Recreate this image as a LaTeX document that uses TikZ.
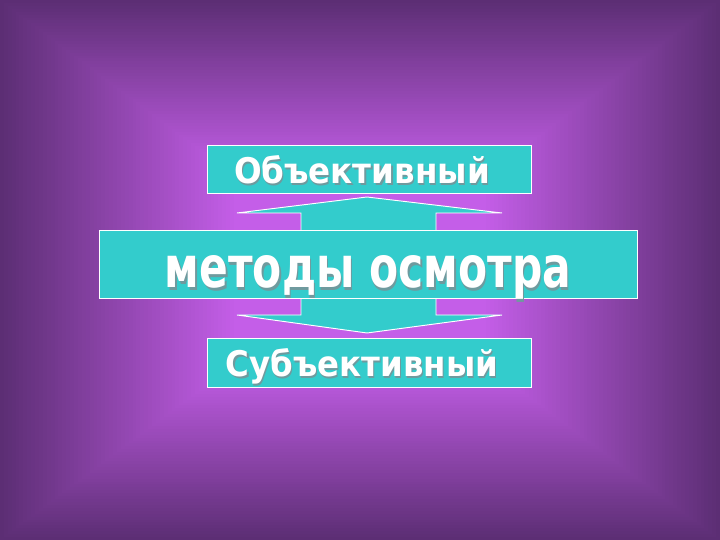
\documentclass[tikz,border=0pt]{standalone}
\usepackage{fontspec}
\setmainfont{DejaVu Sans}

\definecolor{bgdark}{HTML}{5C2E74}
\definecolor{bgbright}{HTML}{C45EE8}
\definecolor{boxteal}{HTML}{33CCCC}
\definecolor{shadowteal}{HTML}{6F9A9E}

\newlength{\pxu}
\setlength{\pxu}{0.03cm}
% white text with a soft shadow, squeezed to a given width and height
\newcommand{\shtext}[3]{\resizebox{#1\pxu}{#2\pxu}{\bfseries\rlap{\kern0.035em\raisebox{-0.035em}{\color{shadowteal}#3}}#3}}

\tikzset{
  tealbox/.style={draw=white,line width=0.8pt,fill=boxteal,inner sep=0pt,
    text=white,text depth=0pt}
}

\begin{document}
\begin{tikzpicture}[x=0.03cm,y=-0.03cm]

\useasboundingbox (0,0) rectangle (720,540);

% background
\foreach \i in {0,...,59}{
  \pgfmathsetmacro{\dd}{1-0.65*\i/60}
  \pgfmathsetmacro{\pc}{100*\i/60}
  \fill[bgbright!\pc!bgdark] ({360-360*\dd},{270-270*\dd}) rectangle ({360+360*\dd},{270+270*\dd});
}
\fill[bgbright] (234,182) rectangle (486,358);

% double arrow
\filldraw[line width=0.8pt,draw=white,fill=boxteal]
  (367,197) -- (502,213) -- (436,213) -- (436,315) -- (502,315)
  -- (367,333) -- (237,315) -- (301,315) -- (301,213) -- (237,213) -- cycle;

\node[tealbox,minimum width=538\pxu,minimum height=68\pxu,text height=48\pxu] (methbox)
  at (368,264) {\shtext{406}{32}{методы осмотра}};
\node[tealbox,minimum width=324\pxu,minimum height=48\pxu,text height=30\pxu] (objbox)
  at (369,169) {\shtext{256}{28}{Объективный}\rule{14\pxu}{0pt}};
\node[tealbox,minimum width=324\pxu,minimum height=49\pxu,text height=29\pxu] (subjbox)
  at (369,362.5) {\shtext{272}{28}{Субъективный}\rule{14\pxu}{0pt}};

\end{tikzpicture}
\end{document}
